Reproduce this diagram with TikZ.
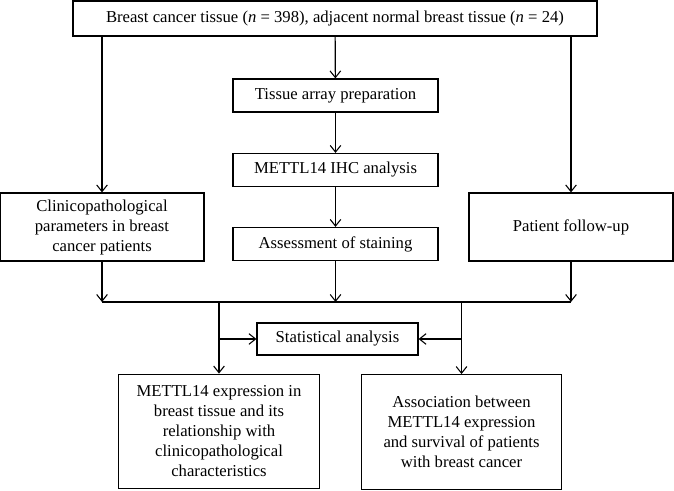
\documentclass[tikz,border=0pt]{standalone}
\usepackage{fontspec}
\setmainfont{Liberation Serif}
\usetikzlibrary{arrows.meta}
\tikzset{
    box/.style = {rectangle, draw=black, line width=0.9pt, align=center, inner sep=2pt,font=\fontsize{12.5}{15}\selectfont},
    stepbox/.style = {box, minimum width=153.75pt, minimum height=24.75pt},
    sidebox/.style = {box, minimum width=153pt, minimum height=51pt},
    endbox/.style = {box, minimum width=150.5pt, minimum height=86pt},
    flow/.style = {-{Straight Barb[length=5pt,width=8pt,line width=0.8pt]}, line width=0.9pt},
    wire/.style = {line width=0.9pt}
}
\begin{document}
\begin{tikzpicture}[x=0.75pt,y=-0.75pt]
  \useasboundingbox (0,0) rectangle (674,491);

  \node[box, minimum width=393pt, minimum height=26.25pt] at (335,18.5) (top)
    {Breast cancer tissue (\textit{n} = 398), adjacent normal breast tissue (\textit{n} = 24)};
  \node[stepbox] at (335.5,95.5) (tissue) {Tissue array preparation};
  \node[stepbox] at (335.5,170) (ihc) {METTL14 IHC analysis};
  \node[stepbox] at (335.5,244) (assess) {Assessment of staining};
  \node[sidebox] at (102,227) (clin) {Clinicopathological\\parameters in breast\\cancer patients};
  \node[sidebox] at (571,227) (follow) {Patient follow-up};
  \node[box, minimum width=120.75pt, minimum height=24pt] at (337.5,339) (stat) {Statistical analysis};
  \node[endbox] at (219,431.5) (expr)
    {METTL14 expression in\\breast tissue and its\\relationship with\\clinicopathological\\characteristics};
  \node[endbox] at (461.5,432) (surv)
    {Association between\\METTL14 expression\\and survival of patients\\with breast cancer};

  \coordinate (bus) at (0,302);

  % down from the samples
  \draw[flow] (top.south -| clin.north) -- (clin.north);
  \draw[flow] (top.south -| follow.north) -- (follow.north);
  \draw[flow] (top) -- (tissue);
  \draw[flow] (tissue) -- (ihc);
  \draw[flow] (ihc) -- (assess);

  % collect
  \draw[flow] (clin.south) -- (clin.south |- bus);
  \draw[flow] (assess.south) -- (assess.south |- bus);
  \draw[flow] (follow.south) -- (follow.south |- bus);
  \draw[wire] (clin.south |- bus) -- (follow.south |- bus);

  % results
  \draw[flow] (expr.north |- bus) -- (expr.north);
  \draw[flow] (surv.north |- bus) -- (surv.north);
  \draw[flow] (expr.north |- stat.west) -- (stat.west);
  \draw[flow] (surv.north |- stat.east) -- (stat.east);
\end{tikzpicture}
\end{document}
